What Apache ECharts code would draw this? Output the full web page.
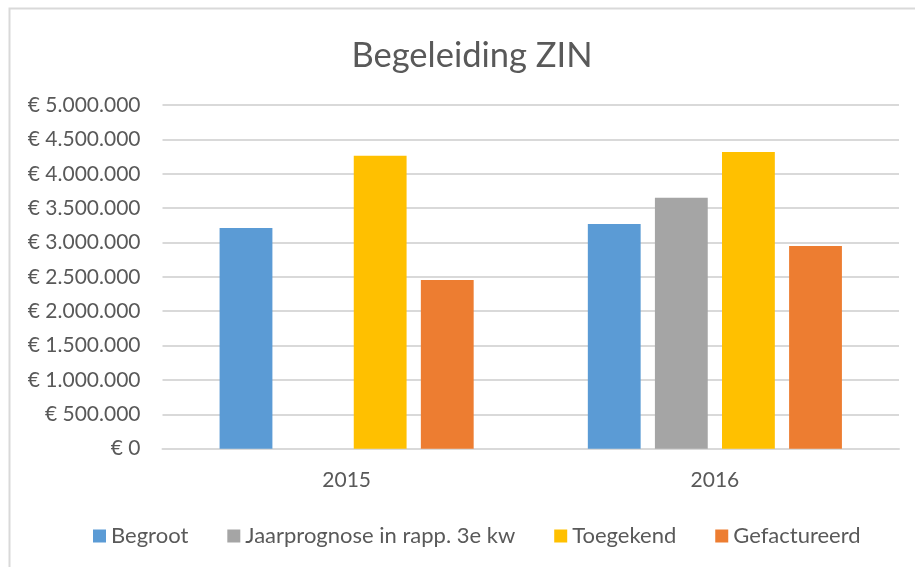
<!DOCTYPE html>
<html>
<head>
<meta charset="utf-8">
<script src="https://cdn.jsdelivr.net/npm/echarts@6/dist/echarts.min.js"></script>
<style>
  html, body { margin: 0; padding: 0; background: #ffffff; }
  #chart { width: 915px; height: 567px; }
</style>
</head>
<body>
<div id="chart"></div>
<script>
const titleText = 'Begeleiding ZIN';
const categories = ['2015', '2016'];
const seriesNames = ['Begroot', 'Jaarprognose in rapp. 3e kw', 'Toegekend', 'Gefactureerd'];
const begroot = [3210000, 3270000];
const jaarprognose = [null, 3650000];
const toegekend = [4260000, 4315000];
const gefactureerd = [2455000, 2950000];
const yMin = 0;
const yMax = 5000000;
const yInterval = 500000;
const colors = ['#5B9BD5', '#A5A5A5', '#FFC000', '#ED7D31'];

const seriesData = [begroot, jaarprognose, toegekend, gefactureerd];
const textColor = '#595959';
const fontFamily = 'Lato, "Open Sans", sans-serif';

function euro(v) {
  const s = Math.round(v).toString().replace(/\B(?=(\d{3})+(?!\d))/g, '.');
  return '€ ' + s;
}

const chart = echarts.init(document.getElementById('chart'), null, { renderer: 'canvas' });
chart.setOption({
  animation: false,
  backgroundColor: '#ffffff',
  color: colors,
  graphic: [{
    type: 'rect',
    left: 7, top: 6,
    shape: { width: 930, height: 580 },
    style: { fill: 'none', stroke: '#D9D9D9', lineWidth: 2 },
    silent: true,
    z: -10
  }],
  title: {
    text: titleText,
    left: 467,
    textAlign: 'center',
    top: 33,
    textStyle: { color: textColor, fontFamily: fontFamily, fontWeight: 'normal', fontSize: 34.5 }
  },
  legend: {
    left: 88,
    top: 520,
    icon: 'rect',
    itemWidth: 13,
    itemHeight: 13,
    itemGap: 39,
    textStyle: { color: textColor, fontFamily: fontFamily, fontSize: 22 },
    data: seriesNames
  },
  grid: { left: 162.5, right: 16, top: 105, bottom: 118.3, containLabel: false },
  xAxis: {
    type: 'category',
    data: categories,
    axisLine: { show: true, lineStyle: { color: '#D9D9D9', width: 2 } },
    axisTick: { show: false },
    axisLabel: { color: textColor, fontFamily: fontFamily, fontSize: 21, margin: 21 }
  },
  yAxis: {
    type: 'value',
    min: yMin,
    max: yMax,
    interval: yInterval,
    axisLine: { show: false },
    axisTick: { show: false },
    splitLine: { lineStyle: { color: '#D9D9D9', width: 2 } },
    axisLabel: { color: textColor, fontFamily: fontFamily, fontSize: 21, margin: 22, formatter: euro }
  },
  series: seriesNames.map((name, i) => ({
    name: name,
    type: 'bar',
    data: seriesData[i],
    barGap: '27%',
    barCategoryGap: '31%',
    itemStyle: { color: colors[i] }
  }))
});
</script>
</body>
</html>
